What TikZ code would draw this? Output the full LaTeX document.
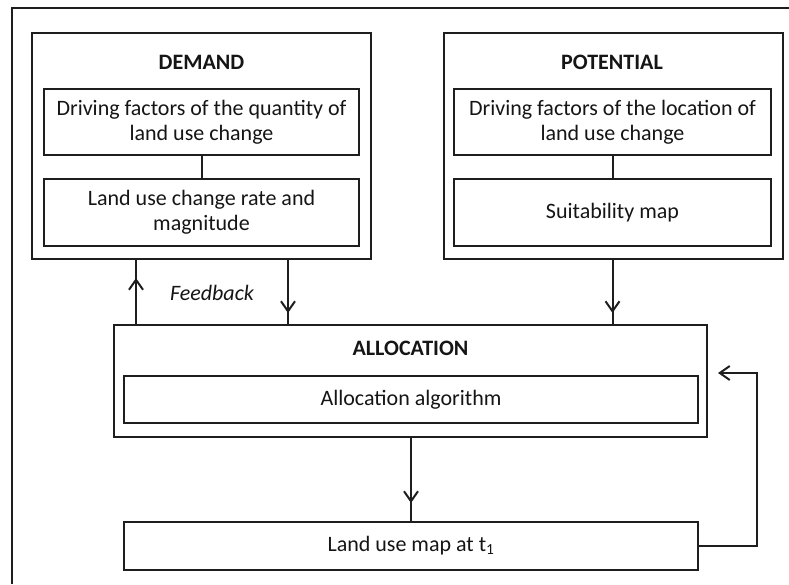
\documentclass[tikz,border=0pt]{standalone}
\usepackage{fontspec}
\setmainfont{Carlito}
\usetikzlibrary{arrows.meta,decorations.markings}
\definecolor{linec}{HTML}{1E1E1E}
\definecolor{txtc}{HTML}{151515}
\begin{document}
\begin{tikzpicture}[x=1pt,y=-1pt,
  every node/.style={font=\fontsize{22}{25}\selectfont, text=txtc},
  box/.style={draw=linec, line width=2pt, rectangle, inner sep=0pt, align=center},
  title/.style={font=\fontsize{22}{25}\selectfont\bfseries},
  conn/.style={draw=linec, line width=2pt},
  midarrow/.style={postaction={decorate}, decoration={markings, mark=at position #1 with {\arrow{Straight Barb[length=10pt,width=14pt,line width=2pt]}}}}
]
\useasboundingbox (0,0) rectangle (789,584);
% outer frame (only left and top edges visible)
\draw[draw=linec, line width=2.2pt] (12,584) -- (12,8) -- (789,8);

% DEMAND
\node[box, minimum width=339pt, minimum height=226pt] (demand) at (201.5,146) {};
\node[title] (demandT) at (201.5,62) {DEMAND};
\node[box, minimum width=315pt, minimum height=66pt] (dq) at (201.5,122) {Driving factors of the quantity of\\land use change};
\node[box, minimum width=315pt, minimum height=67pt] (dr) at (201.5,212.5) {Land use change rate and\\magnitude};

% POTENTIAL
\node[box, minimum width=339pt, minimum height=226pt] (potential) at (613.5,146) {};
\node[title] (potentialT) at (612,62) {POTENTIAL};
\node[box, minimum width=317pt, minimum height=66pt] (dl) at (612.5,122) {Driving factors of the location of\\land use change};
\node[box, minimum width=317pt, minimum height=67pt] (suit) at (612.5,212.5) {Suitability map};

% ALLOCATION
\node[box, minimum width=593pt, minimum height=112pt] (alloc) at (410.5,381) {};
\node[title] (allocT) at (410.5,348) {ALLOCATION};
\node[box, minimum width=574pt, minimum height=47pt] (algo) at (411,399.5) {Allocation algorithm};

% Land use map
\node[box, minimum width=574pt, minimum height=48pt] (land) at (411,546) {Land use map at t\textsubscript{1}};

% Feedback label
\node[font=\fontsize{22}{25}\selectfont\itshape] (fb) at (212,293) {Feedback};

% helper coordinates
\coordinate (fbx) at (136,0);
\coordinate (dmx) at (288,0);
\coordinate (rx) at (757,373);
\coordinate (rt) at (718,373);

% connectors
\draw[conn] (dq.south) -- (dr.north);
\draw[conn] (dl.south) -- (suit.north);
\draw[conn, midarrow=46pt] (alloc.north -| fbx) -- (demand.south -| fbx);
\draw[conn, midarrow=53pt] (demand.south -| dmx) -- (alloc.north -| dmx);
\draw[conn, midarrow=53pt] (potential.south -| dl.south) -- (alloc.north -| dl.south);
\draw[conn, midarrow=65pt] (alloc.south -| land.north) -- (land.north);
\draw[conn, -{Straight Barb[length=10pt,width=14pt,line width=2pt]}] (land.east) -| (rx) -- (rt);
\end{tikzpicture}
\end{document}
